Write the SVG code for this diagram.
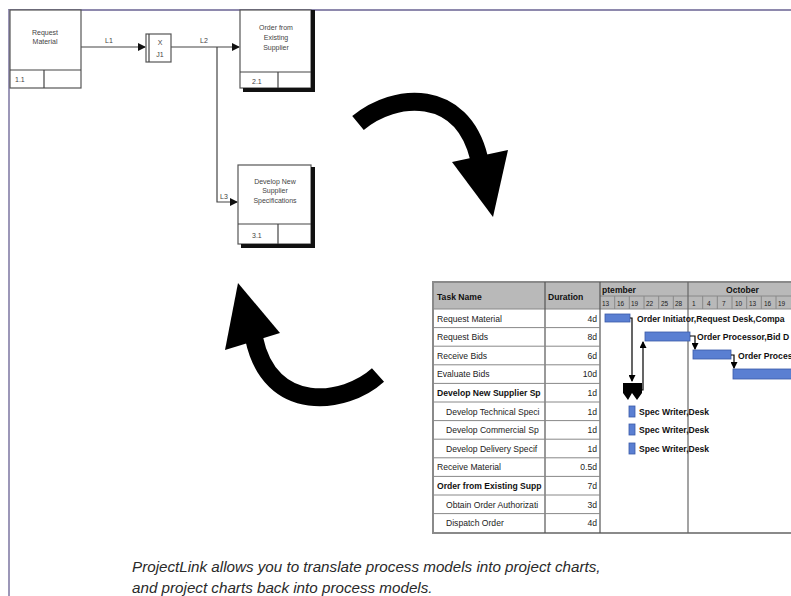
<svg xmlns="http://www.w3.org/2000/svg" width="791" height="596" viewBox="0 0 791 596">
<style>
.box{fill:#fff;stroke:#555;stroke-width:1.2}
.shadow{fill:none;stroke:#111;stroke-width:4}
.lbl{font-family:"Liberation Sans",Arial,sans-serif;font-size:7px;fill:#444;text-anchor:middle}
.lnk{font-family:"Liberation Sans",Arial,sans-serif;font-size:7px;fill:#444}
.line{fill:none;stroke:#444;stroke-width:1.2}
.big{fill:none;stroke:#000;stroke-width:18}
.tt{font-family:"Liberation Sans",Arial,sans-serif;font-size:8.6px;fill:#222}
.tb{font-family:"Liberation Sans",Arial,sans-serif;font-size:8.6px;fill:#111;font-weight:bold}
.dur{font-family:"Liberation Sans",Arial,sans-serif;font-size:8.6px;fill:#222;text-anchor:end}
.day{font-family:"Liberation Sans",Arial,sans-serif;font-size:6.5px;fill:#222}
.grid{stroke:#888;stroke-width:1}
.bar{fill:#5a7fd2;stroke:#3b5aa8;stroke-width:0.8}
.cap{font-family:"Liberation Sans",Arial,sans-serif;font-size:15.2px;font-style:italic;fill:#2a2a2a}
</style>
<defs>
<marker id="ah" markerWidth="8" markerHeight="8" refX="7" refY="4" orient="auto" markerUnits="userSpaceOnUse">
<path d="M0,0 L8,4 L0,8 z" fill="#111"/>
</marker>
<marker id="gh" markerWidth="7" markerHeight="7" refX="6" refY="3.5" orient="auto" markerUnits="userSpaceOnUse">
<path d="M0,0 L7,3.5 L0,7 z" fill="#000"/>
</marker>
<clipPath id="colTask"><rect x="434" y="309" width="110" height="224"/></clipPath>
</defs>
<rect x="0" y="0" width="791" height="596" fill="#fff"/>
<!-- frame -->
<line x1="8" y1="10" x2="791" y2="10" stroke="#8e89ad" stroke-width="2"/>
<line x1="9" y1="10" x2="9" y2="596" stroke="#9c97b8" stroke-width="2"/>

<g id="connectors">
<line class="line" x1="81" y1="47" x2="145" y2="47" marker-end="url(#ah)"/>
<text class="lnk" x="105" y="43">L1</text>
<line class="line" x1="171" y1="47" x2="239" y2="47" marker-end="url(#ah)"/>
<text class="lnk" x="200" y="43">L2</text>
<polyline class="line" points="217,47 217,202 237,202" marker-end="url(#ah)"/>
<text class="lnk" x="220" y="199">L3</text>
</g>

<g id="request-material">
<rect class="box" x="10" y="10" width="71" height="78"/>
<line class="line" x1="10" y1="70" x2="81" y2="70"/>
<line class="line" x1="44" y1="70" x2="44" y2="88"/>
<text class="lbl" x="45" y="35">Request</text>
<text class="lbl" x="45" y="44">Material</text>
<text class="lnk" x="15" y="82">1.1</text>
</g>

<g id="junction-j1">
<rect class="box" x="146" y="34" width="25" height="28"/>
<line class="line" x1="149" y1="34" x2="149" y2="62"/>
<text class="lbl" x="160" y="45">X</text>
<text class="lbl" x="160" y="57">J1</text>
</g>

<g id="order-existing-supplier">
<rect class="box" x="240" y="10" width="71" height="78"/>
<polyline class="shadow" points="243,90 313,90 313,10"/>
<line class="line" x1="240" y1="72" x2="311" y2="72"/>
<line class="line" x1="278" y1="72" x2="278" y2="88"/>
<text class="lbl" x="276" y="30">Order from</text>
<text class="lbl" x="276" y="40">Existing</text>
<text class="lbl" x="276" y="50">Supplier</text>
<text class="lnk" x="252" y="84">2.1</text>
</g>

<g id="develop-new-supplier">
<rect class="box" x="238" y="165" width="73" height="79"/>
<polyline class="shadow" points="241,246 313,246 313,167"/>
<line class="line" x1="238" y1="224" x2="311" y2="224"/>
<line class="line" x1="278" y1="224" x2="278" y2="244"/>
<text class="lbl" x="275" y="184">Develop New</text>
<text class="lbl" x="275" y="193">Supplier</text>
<text class="lbl" x="275" y="203">Specifications</text>
<text class="lnk" x="252" y="238">3.1</text>
</g>

<g id="arrow-forward">
<path class="big" d="M358,123 C395,92 462,88 479,158"/>
<polygon points="452,162 508,150 493,217" fill="#000"/>
</g>
<g id="arrow-back">
<path class="big" d="M378,375 C345,405 270,415 254,338"/>
<polygon points="238,283 225,350 280,333" fill="#000"/>
</g>

<g id="gantt">
<rect x="433" y="282" width="360" height="251" fill="#fff" stroke="#8a8a8a" stroke-width="2"/>
<rect x="434" y="283" width="358" height="26" fill="#b9b9b9"/>
<line class="grid" x1="600" y1="296" x2="791" y2="296"/>
<line class="grid" x1="433" y1="309" x2="791" y2="309"/>
<line x1="545" y1="282" x2="545" y2="533" stroke="#555" stroke-width="1.2"/>
<line x1="600" y1="282" x2="600" y2="533" stroke="#555" stroke-width="1.2"/>
<line x1="688" y1="282" x2="688" y2="533" stroke="#666" stroke-width="1.2"/>
<text class="tb" x="437" y="300">Task Name</text>
<text class="tb" x="548" y="300">Duration</text>
<text class="tb" x="602" y="293">ptember</text>
<text class="tb" x="726" y="293">October</text>
<g class="grid">
<line x1="614.7" y1="296" x2="614.7" y2="309"/><line x1="629.3" y1="296" x2="629.3" y2="309"/>
<line x1="644" y1="296" x2="644" y2="309"/><line x1="658.7" y1="296" x2="658.7" y2="309"/>
<line x1="673.3" y1="296" x2="673.3" y2="309"/><line x1="702.7" y1="296" x2="702.7" y2="309"/>
<line x1="717.3" y1="296" x2="717.3" y2="309"/><line x1="732" y1="296" x2="732" y2="309"/>
<line x1="746.7" y1="296" x2="746.7" y2="309"/><line x1="761.3" y1="296" x2="761.3" y2="309"/>
<line x1="776" y1="296" x2="776" y2="309"/>
</g>
<g class="day">
<text x="602" y="306">13</text><text x="617" y="306">16</text><text x="631" y="306">19</text>
<text x="646" y="306">22</text><text x="661" y="306">25</text><text x="675" y="306">28</text>
<text x="692" y="306">1</text><text x="707" y="306">4</text><text x="722" y="306">7</text>
<text x="735" y="306">10</text><text x="749" y="306">13</text><text x="764" y="306">16</text><text x="778" y="306">19</text>
</g>
<g class="grid">
<line x1="433" y1="327.6" x2="600" y2="327.6"/><line x1="433" y1="346.2" x2="600" y2="346.2"/>
<line x1="433" y1="364.8" x2="600" y2="364.8"/><line x1="433" y1="383.4" x2="600" y2="383.4"/>
<line x1="433" y1="402" x2="600" y2="402"/><line x1="433" y1="420.6" x2="600" y2="420.6"/>
<line x1="433" y1="439.2" x2="600" y2="439.2"/><line x1="433" y1="457.8" x2="600" y2="457.8"/>
<line x1="433" y1="476.4" x2="600" y2="476.4"/><line x1="433" y1="495" x2="600" y2="495"/>
<line x1="433" y1="513.6" x2="600" y2="513.6"/>
</g>
<g clip-path="url(#colTask)">
<text class="tt" x="437" y="322">Request Material</text>
<text class="tt" x="437" y="340">Request Bids</text>
<text class="tt" x="437" y="359">Receive Bids</text>
<text class="tt" x="437" y="377">Evaluate Bids</text>
<text class="tb" x="437" y="396">Develop New Supplier Sp</text>
<text class="tt" x="446" y="415">Develop Technical Speci</text>
<text class="tt" x="446" y="433">Develop Commercial Sp</text>
<text class="tt" x="446" y="452">Develop Delivery Specif</text>
<text class="tt" x="437" y="470">Receive Material</text>
<text class="tb" x="437" y="489">Order from Existing Supp</text>
<text class="tt" x="446" y="508">Obtain Order Authorizati</text>
<text class="tt" x="446" y="526">Dispatch Order</text>
</g>
<text class="dur" x="597" y="322">4d</text>
<text class="dur" x="597" y="340">8d</text>
<text class="dur" x="597" y="359">6d</text>
<text class="dur" x="597" y="377">10d</text>
<text class="dur" x="597" y="396">1d</text>
<text class="dur" x="597" y="415">1d</text>
<text class="dur" x="597" y="433">1d</text>
<text class="dur" x="597" y="452">1d</text>
<text class="dur" x="597" y="470">0.5d</text>
<text class="dur" x="597" y="489">7d</text>
<text class="dur" x="597" y="508">3d</text>
<text class="dur" x="597" y="526">4d</text>
<!-- bars -->
<rect class="bar" x="605" y="314" width="25" height="8"/>
<rect class="bar" x="645" y="332" width="45" height="9"/>
<rect class="bar" x="693" y="350" width="38" height="9"/>
<rect class="bar" x="733" y="369" width="60" height="10"/>
<rect class="bar" x="629" y="406" width="6" height="11"/>
<rect class="bar" x="629" y="424" width="6" height="11"/>
<rect class="bar" x="629" y="443" width="6" height="11"/>
<text class="tb" x="637" y="322">Order Initiator,Request Desk,Compa</text>
<text class="tb" x="697" y="340">Order Processor,Bid D</text>
<text class="tb" x="738" y="359">Order Proces</text>
<text class="tb" x="639" y="415">Spec Writer,Desk</text>
<text class="tb" x="639" y="433">Spec Writer,Desk</text>
<text class="tb" x="639" y="452">Spec Writer,Desk</text>
<!-- summary bar -->
<path d="M623,383 L642,383 L642,393 L637,400 L632,393 L628,400 L623,393 Z" fill="#000"/>
<!-- links -->
<polyline points="630,318 632,318 632,381" fill="none" stroke="#000" stroke-width="1.2" marker-end="url(#gh)"/>
<polyline points="642,390 643,390 643,342" fill="none" stroke="#000" stroke-width="1.2" marker-end="url(#gh)"/>
<polyline points="690,336 695,336 695,349" fill="none" stroke="#000" stroke-width="1.2" marker-end="url(#gh)"/>
<polyline points="731,355 734,355 734,368" fill="none" stroke="#000" stroke-width="1.2" marker-end="url(#gh)"/>
</g>

<g id="caption">
<text class="cap" x="132" y="572">ProjectLink allows you to translate process models into project charts,</text>
<text class="cap" x="132" y="593">and project charts back into process models.</text>
</g>
</svg>
